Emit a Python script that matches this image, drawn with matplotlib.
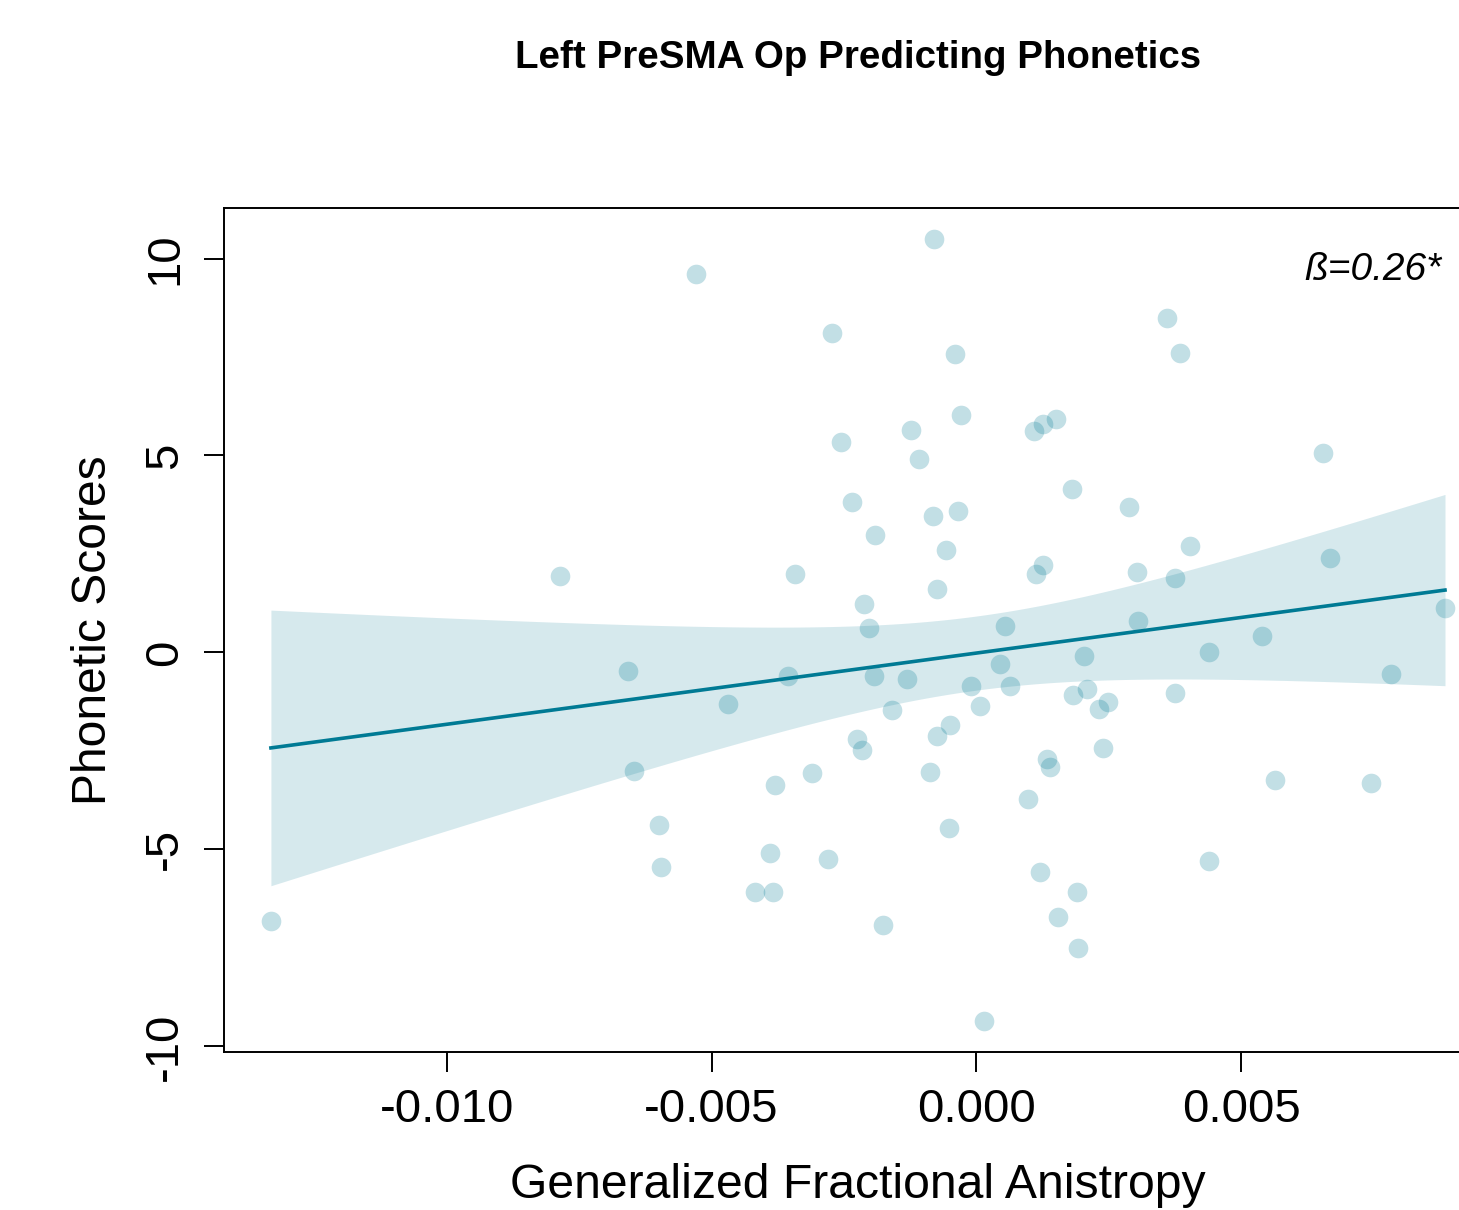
import matplotlib
matplotlib.use("Agg")
import matplotlib.pyplot as plt
import numpy as np

# Generalized FA (x) and phonetic scores (y)
FA = [
    -0.01332, -0.00787, -0.00530, -0.00658, -0.00647, -0.00600, -0.00596, -0.00468,
    -0.00417, -0.00383, -0.00389, -0.00381, -0.00355, -0.00342, -0.00311, -0.00281,
    -0.00272, -0.00255, -0.00234, -0.00225, -0.00215, -0.00213, -0.00202, -0.00194,
    -0.00192, -0.00177, -0.00160, -0.00130, -0.00123, -0.00108, -0.00087, -0.00081,
    -0.00079, -0.00074, -0.00074, -0.00057, -0.00049, -0.00051, -0.00040, -0.00034,
    -0.00028, -0.00011, 0.00006, 0.00015, 0.00045, 0.00055, 0.00064, 0.00098,
    0.00109, 0.00113, 0.00121, 0.00125, 0.00126, 0.00134, 0.00140, 0.00151,
    0.00155, 0.00181, 0.00183, 0.00191, 0.00192, 0.00204, 0.00209, 0.00232,
    0.00240, 0.00249, 0.00289, 0.00304, 0.00306, 0.00360, 0.00375, 0.00375,
    0.00385, 0.00404, 0.00440, 0.00440, 0.00540, 0.00564, 0.00655, 0.00668,
    0.00745, 0.00783, 0.00885,
]
PHONETIC = [
    -6.82, 1.95, 9.61, -0.46, -3.02, -4.39, -5.45, -1.32,
    -6.08, -6.08, -5.10, -3.37, -0.61, 1.98, -3.07, -5.25,
    8.11, 5.35, 3.83, -2.21, -2.48, 1.22, 0.63, -0.61,
    2.97, -6.92, -1.47, -0.68, 5.65, 4.92, -3.04, 3.47,
    10.49, -2.13, 1.60, 2.61, -1.83, -4.46, 7.58, 3.60,
    6.03, -0.86, -1.37, -9.35, -0.30, 0.66, -0.84, -3.73,
    5.63, 2.00, -5.58, 5.80, 2.23, -2.71, -2.92, 5.93,
    -6.72, 4.16, -1.09, -6.08, -7.50, -0.10, -0.94, -1.44,
    -2.43, -1.27, 3.70, 2.03, 0.79, 8.49, 1.88, -1.04,
    7.60, 2.69, 0.00, -5.30, 0.41, -3.24, 5.07, 2.41,
    -3.32, -0.56, 1.14,
]
X_TICKS = [-0.010, -0.005, 0.000, 0.005]
X_TICK_LABELS = ["-0.010", "-0.005", "0.000", "0.005"]
Y_TICKS = [-10, -5, 0, 5, 10]
Y_TICK_LABELS = ["-10", "-5", "0", "5", "10"]
BETA_LABEL = "ß=0.26*"
T_CRIT = 1.99  # t(0.975, df=81)

TEAL = "#007A94"

plt.rcParams["font.family"] = ["Liberation Sans", "DejaVu Sans"]

x = np.array(FA)
y = np.array(PHONETIC)

# simple linear fit with 95% confidence band
slope, intercept = np.polyfit(x, y, 1)
n = len(x)
resid = y - (intercept + slope * x)
s = np.sqrt(np.sum(resid ** 2) / (n - 2))
sxx = np.sum((x - x.mean()) ** 2)
xs = np.linspace(x.min(), x.max(), 200)
fit = intercept + slope * xs
half = T_CRIT * s * np.sqrt(1 / n + (xs - x.mean()) ** 2 / sxx)

fig = plt.figure(figsize=(14.59, 12.10), dpi=100)
# plot region runs slightly past the right edge of the image, as in the reference
ax = fig.add_axes([0.1535, 0.1306, 0.8691, 0.6975])

ax.fill_between(xs, fit - half, fit + half, color=TEAL, alpha=0.16, linewidth=0)
ax.scatter(x, y, s=200, color=TEAL, alpha=0.24, linewidths=0, zorder=3)
ax.plot(xs, fit, color=TEAL, linewidth=2.6, zorder=4)

# R-style 4% padding on both axes
xpad = 0.04 * (x.max() - x.min())
ypad = 0.04 * (y.max() - y.min())
ax.set_xlim(x.min() - xpad, x.max() + xpad)
ax.set_ylim(y.min() - ypad, y.max() + ypad)

ax.set_xticks(X_TICKS)
ax.set_xticklabels(X_TICK_LABELS)
ax.set_yticks(Y_TICKS)
ax.set_yticklabels(Y_TICK_LABELS, rotation=90, va="center")
ax.tick_params(axis="both", direction="out", length=14.4, width=1.4, labelsize=34)
ax.tick_params(axis="x", pad=11.5)
ax.tick_params(axis="y", pad=12)
for sp in ax.spines.values():
    sp.set_linewidth(1.4)

ax.set_xlabel("Generalized Fractional Anistropy", fontsize=34.7, labelpad=22)
ax.set_ylabel("Phonetic Scores", fontsize=34.6, labelpad=20)
ax.set_title("Left PreSMA Op Predicting Phonetics", fontsize=27.7, fontweight="bold", pad=101)

ax.text(0.00879, 9.45, BETA_LABEL, fontsize=28, style="italic", ha="right", va="baseline")

fig.savefig("out.png", dpi=100)
